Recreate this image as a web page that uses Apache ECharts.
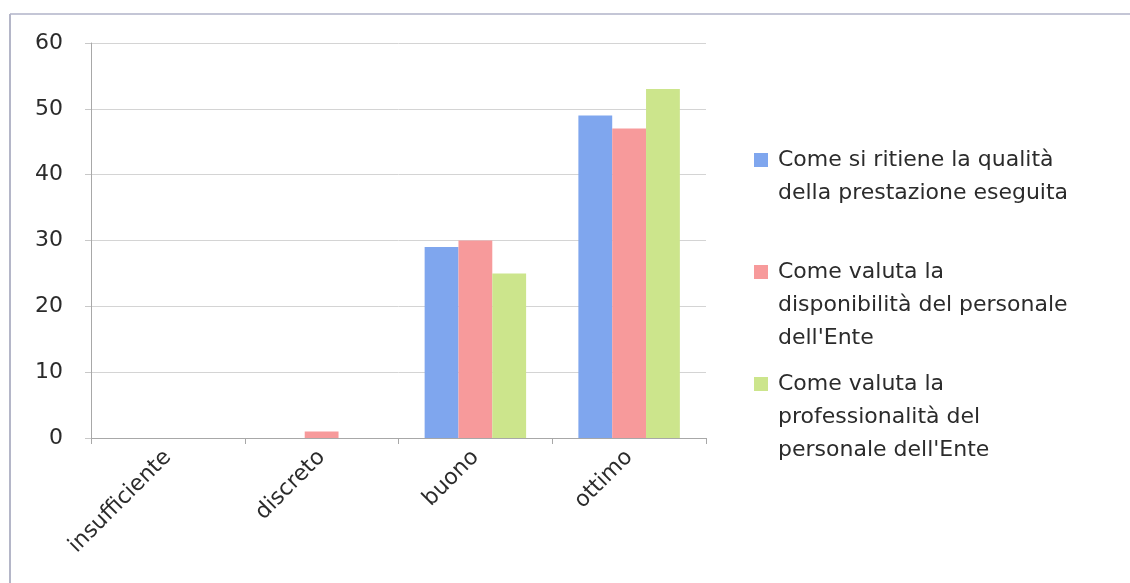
<!DOCTYPE html>
<html><head><meta charset="utf-8">
<script src="https://cdn.jsdelivr.net/npm/echarts@6/dist/echarts.min.js"></script>
<style>html,body{margin:0;padding:0;background:#fff}#c{width:1130px;height:583px}</style>
</head><body><div id="c"></div>
<script>
const categories = ['insufficiente', 'discreto', 'buono', 'ottimo'];
const seriesNames = [
  'Come si ritiene la qualità\ndella prestazione eseguita',
  'Come valuta la\ndisponibilità del personale\ndell\'Ente',
  'Come valuta la\nprofessionalità del\npersonale dell\'Ente'
];
const qualita = [0, 0, 29, 49];
const disponibilita = [0, 1, 30, 47];
const professionalita = [0, 0, 25, 53];
const yTicks = [0, 10, 20, 30, 40, 50, 60];

const colors = ['#7fa6ee', '#f79a9b', '#cce58c'];
const FONT = 'DejaVu Sans';
const FS = 22;
const LH = 33;
const legendTops = [160, 272, 384]; // icon centre y
function mkLegend(i) {
  const n = seriesNames[i].split('\n').length;
  const pre = '\n'.repeat(n - 1);
  const h = (2 * n - 1) * LH;
  return {
    orient: 'vertical', left: 754, top: legendTops[i] - h / 2, padding: 0,
    data: [seriesNames[i]], itemWidth: 14, itemHeight: 14, itemGap: 0,
    icon: 'rect', selectedMode: false,
    formatter: name => pre + name,
    textStyle: { fontFamily: FONT, fontSize: FS, color: '#2b2b2b', lineHeight: LH, padding: [0, 0, 0, 5] }
  };
}
const chart = echarts.init(document.getElementById('c'));
chart.setOption({
  animation: false,
  grid: { left: 91, right: 424, top: 43, bottom: 145 },
  legend: [mkLegend(0), mkLegend(1), mkLegend(2)],
  xAxis: {
    type: 'category', data: categories,
    axisLine: { lineStyle: { color: '#a8a8a8' } },
    axisTick: { show: true, length: 6, lineStyle: { color: '#a8a8a8' } },
    axisLabel: { rotate: 45, fontFamily: FONT, fontSize: FS, color: '#2b2b2b', margin: 16 }
  },
  yAxis: {
    type: 'value', min: 0, max: 60, interval: 10,
    axisLine: { show: true, lineStyle: { color: '#a8a8a8' } },
    axisTick: { show: true, length: 6, lineStyle: { color: '#c8c8c8' } },
    splitLine: { lineStyle: { color: '#d4d4d4' } },
    axisLabel: { fontFamily: FONT, fontSize: FS, color: '#2b2b2b', margin: 28,
      formatter: v => yTicks.includes(v) ? String(v) : '' }
  },
  series: [
    { name: seriesNames[0], type: 'bar', data: qualita, itemStyle: { color: colors[0] }, barGap: '0%', barCategoryGap: '34%' },
    { name: seriesNames[1], type: 'bar', data: disponibilita, itemStyle: { color: colors[1] } },
    { name: seriesNames[2], type: 'bar', data: professionalita, itemStyle: { color: colors[2] } }
  ],
  graphic: [
    { type: 'line', shape: { x1: 10, y1: 14, x2: 1130, y2: 14 }, style: { stroke: '#c4c6d6', lineWidth: 2 } },
    { type: 'line', shape: { x1: 10, y1: 14, x2: 10, y2: 583 }, style: { stroke: '#b4b6c8', lineWidth: 2 } }
  ]
});
</script></body></html>
